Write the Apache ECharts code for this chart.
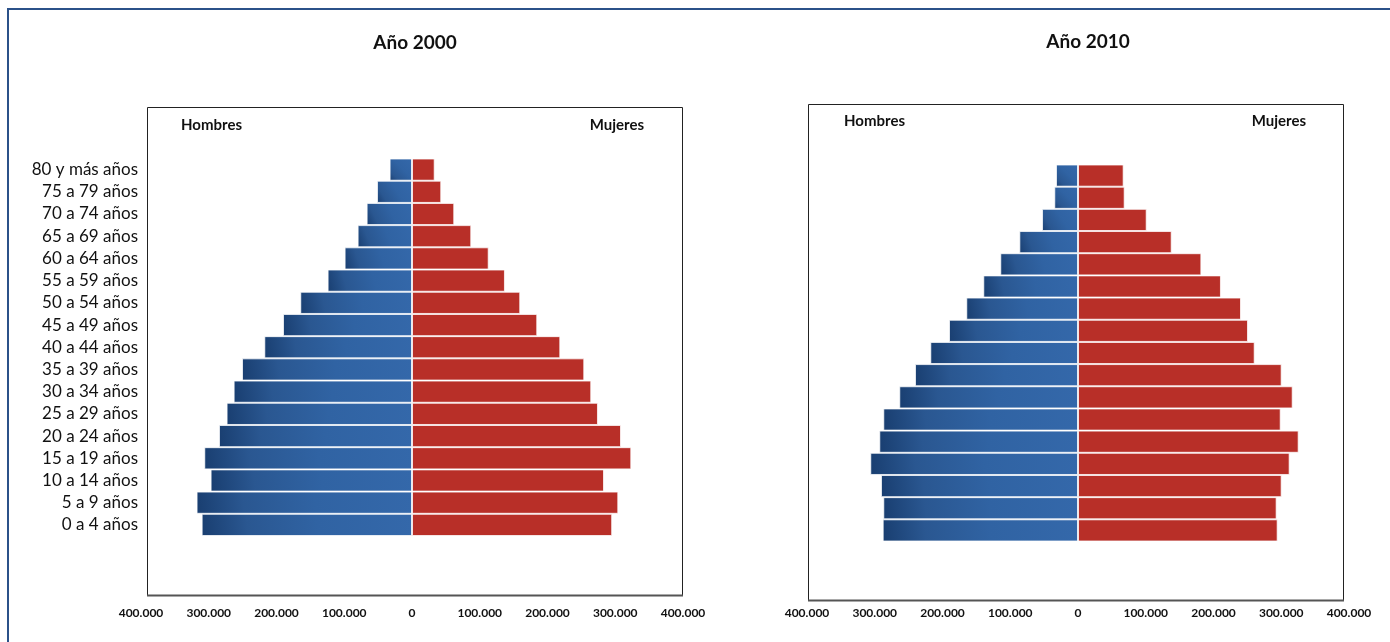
<!DOCTYPE html>
<html>
<head>
<meta charset="utf-8">
<title>Pirámides de población 2000 y 2010</title>
<script src="https://cdn.jsdelivr.net/npm/echarts@6/dist/echarts.min.js"></script>
<style>
  html, body { margin: 0; padding: 0; background: #ffffff; }
  #chart { width: 1390px; height: 642px; }
</style>
</head>
<body>
<div id="chart"></div>
<script>
// Age groups, from youngest (bottom) to oldest (top)
const grupos = [
  '0 a 4 años', '5 a 9 años', '10 a 14 años', '15 a 19 años', '20 a 24 años',
  '25 a 29 años', '30 a 34 años', '35 a 39 años', '40 a 44 años', '45 a 49 años',
  '50 a 54 años', '55 a 59 años', '60 a 64 años', '65 a 69 años', '70 a 74 años',
  '75 a 79 años', '80 y más años'
];

// Population by sex, same order as grupos
const hombres2000 = [310500, 318000, 297300, 306600, 284900, 273700, 263300, 250900, 218000,
  190400, 164900, 124600, 99500, 80300, 67000, 51700, 33100];
const mujeres2000 = [295500, 304500, 283400, 323700, 308500, 274500, 264600, 254300, 218900,
  184900, 159800, 137200, 113200, 87500, 62400, 43200, 33500];
const hombres2010 = [288300, 287400, 290800, 306600, 293300, 287400, 263800, 240600, 218000,
  190400, 164900, 139800, 114700, 86600, 53100, 35000, 32500];
const mujeres2010 = [294700, 293200, 300600, 312400, 325700, 299200, 316900, 300600, 260800,
  250900, 240600, 211000, 182100, 138300, 101400, 68900, 67400];

// Axis extent and tick step
const limite = 400000;
const paso = 100000;

const FONT = 'Lato, "Open Sans", "Noto Sans", sans-serif';

function miles(v) {
  const n = Math.abs(Math.round(v));
  return String(n).replace(/\B(?=(\d{3})+(?!\d))/g, '.');
}

const azul = {
  type: 'linear', x: 0, y: 1, x2: 1, y2: 0,
  colorStops: [
    { offset: 0, color: '#193e70' },
    { offset: 0.22, color: '#2a5791' },
    { offset: 0.55, color: '#3063a3' },
    { offset: 1, color: '#3468aa' }
  ]
};
const rojo = '#b82f28';

function ejeX(gridIndex, margin) {
  return {
    type: 'value', gridIndex,
    min: -limite, max: limite, interval: paso,
    axisLine: { show: false }, axisTick: { show: false }, splitLine: { show: false },
    axisLabel: {
      margin, formatter: miles,
      fontFamily: FONT, fontWeight: 'bold', fontSize: 12, color: '#111'
    }
  };
}

function ejeY(gridIndex, mostrar) {
  return {
    type: 'category', gridIndex, data: grupos,
    axisLine: { show: false }, axisTick: { show: false }, splitLine: { show: false },
    axisLabel: {
      show: mostrar, margin: 3, padding: [0, 0, 5, 0],
      fontFamily: FONT, fontSize: 17, color: '#111'
    }
  };
}

function barras(idx, datos, color) {
  return {
    type: 'bar', xAxisIndex: idx, yAxisIndex: idx,
    data: datos, barCategoryGap: '0%', barGap: '-100%',
    itemStyle: { color, borderColor: 'rgba(255,255,255,0.75)', borderWidth: 1 },
    silent: true
  };
}

function texto(x, y, t, size, align) {
  return {
    type: 'text', x, y, silent: true,
    style: {
      text: t, fill: '#111', font: 'bold ' + size + 'px ' + FONT,
      textAlign: align, textVerticalAlign: 'middle'
    }
  };
}

const chart = echarts.init(document.getElementById('chart'), null, { renderer: 'canvas' });

chart.setOption({
  backgroundColor: '#ffffff',
  animation: false,
  grid: [
    { left: 141, width: 542, top: 158.5, height: 377.5 },
    { left: 807, width: 542, top: 164.5, height: 377 }
  ],
  xAxis: [ejeX(0, 71), ejeX(1, 66)],
  yAxis: [ejeY(0, true), ejeY(1, false)],
  series: [
    barras(0, hombres2000.map(v => -v), azul),
    barras(0, mujeres2000, rojo),
    barras(1, hombres2010.map(v => -v), azul),
    barras(1, mujeres2010, rojo)
  ],
  graphic: [
    // outer frame
    { type: 'rect', silent: true, z: -10,
      shape: { x: 8, y: 9, width: 1600, height: 1000 },
      style: { fill: 'none', stroke: '#2b5189', lineWidth: 2 } },
    // plot frames
    { type: 'rect', silent: true, z: -10,
      shape: { x: 147.5, y: 107.5, width: 535, height: 488 },
      style: { fill: 'none', stroke: '#222', lineWidth: 1 } },
    { type: 'line', silent: true, z: -10,
      shape: { x1: 147, y1: 595.5, x2: 683, y2: 595.5 },
      style: { stroke: '#555', lineWidth: 2 } },
    { type: 'rect', silent: true, z: -10,
      shape: { x: 808.5, y: 104.5, width: 535, height: 496 },
      style: { fill: 'none', stroke: '#222', lineWidth: 1 } },
    { type: 'line', silent: true, z: -10,
      shape: { x1: 808, y1: 600.5, x2: 1344, y2: 600.5 },
      style: { stroke: '#555', lineWidth: 2 } },
    texto(415, 43, 'Año 2000', 19, 'center'),
    texto(1088, 42, 'Año 2010', 19, 'center'),
    texto(181, 125, 'Hombres', 15, 'left'),
    texto(644, 125, 'Mujeres', 15, 'right'),
    texto(844, 121, 'Hombres', 15, 'left'),
    texto(1306, 121, 'Mujeres', 15, 'right')
  ]
});
</script>
</body>
</html>
